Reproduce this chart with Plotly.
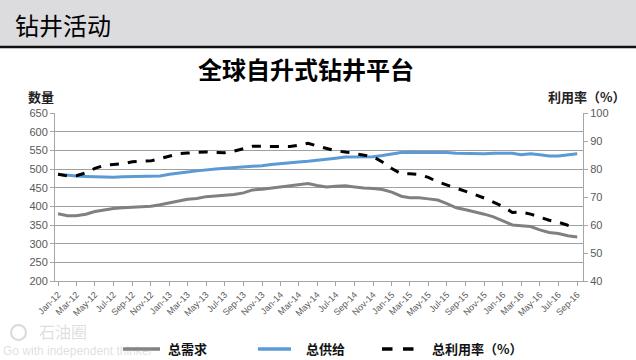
import plotly.graph_objects as go
import pandas as pd

months = pd.date_range("2012-01-01", "2016-09-01", freq="MS")

demand = [380, 375, 375, 379, 386, 391, 394, 396, 397, 398, 400, 404, 409, 414, 419, 421,
          426, 428, 429, 432, 436, 444, 446, 449, 451, 454, 456, 461, 456, 452, 454, 455,
          452, 449, 448, 445, 438, 427, 423, 423, 420, 417, 407, 396, 391, 386, 379, 372,
          362, 350, 348, 346, 337, 330, 327, 321, 318]

supply = [486, 483, 481, 480, 479, 478, 478, 479, 479, 479, 480, 481, 486, 490, 492, 495,
          498, 500, 502, 504, 505, 506, 509, 512, 515, 517, 519, 521, 523, 525, 529, 532,
          532, 532, 533, 536, 540, 544, 545, 545, 546, 546, 544, 542, 541, 541, 541, 542,
          543, 542, 538, 541, 538, 535, 535, 538, 541]

utilization = [78.1, 77.5, 77.6, 78.6, 80.2, 81.3, 81.6, 81.9, 82.6, 82.8, 82.9, 83.7, 84.6,
               85.5, 85.7, 85.9, 86.1, 85.9, 85.8, 86.4, 87.3, 88.1, 88.1, 88.1, 88.1, 88.0,
               88.5, 89.2, 88.2, 87.2, 86.5, 86.1, 85.6, 85.0, 84.4, 82.5, 80.2, 78.3, 78.3,
               78.0, 77.0, 75.4, 74.3, 73.3, 72.0, 70.9, 69.6, 68.2, 66.6, 64.5, 64.6, 63.9,
               62.8, 61.7, 61.0, 59.9, 59.1]

series_names = ["总需求", "总供给", "总利用率（%）"]
left_ticks = list(range(200, 651, 50))
right_ticks = list(range(40, 101, 10))

CJK = "Noto Sans CJK SC"
NUM = "Liberation Sans"

fig = go.Figure()
fig.add_trace(go.Scatter(x=months, y=demand, name=series_names[0], mode="lines",
                         line=dict(color="#808080", width=3)))
fig.add_trace(go.Scatter(x=months, y=supply, name=series_names[1], mode="lines",
                         line=dict(color="#5b9bd5", width=3)))
fig.add_trace(go.Scatter(x=months, y=utilization, name=series_names[2], mode="lines",
                         yaxis="y2", line=dict(color="#000000", width=3, dash="dash")))

# plot area: x 55..583, y 113..281
def px_x(X):
    return (X - 55) / 528.0

def px_y(Y):
    return (281 - Y) / 168.0

shapes = [
    dict(type="rect", xref="paper", yref="paper", x0=px_x(0), x1=px_x(636),
         y0=px_y(46), y1=px_y(0), fillcolor="#dcdcdf", line=dict(width=0), layer="below"),
    dict(type="line", xref="paper", yref="paper", x0=px_x(0), x1=px_x(636),
         y0=px_y(47), y1=px_y(47), line=dict(color="#111111", width=2.5)),
    # watermark icon
    dict(type="circle", xref="paper", yref="paper", x0=px_x(11), x1=px_x(26),
         y0=px_y(340), y1=px_y(325), line=dict(color="rgba(170,170,170,0.45)", width=2)),
]

# manual legend
legend_items = [
    (series_names[0], "#808080", "solid", 123, 160, 166),
    (series_names[1], "#5b9bd5", "solid", 258, 291, 304),
    (series_names[2], "#000000", "dash", 382, 416, 430),
]
annotations = []
for name, color, dash, lx0, lx1, tx in legend_items:
    shapes.append(dict(type="line", xref="paper", yref="paper", x0=px_x(lx0), x1=px_x(lx1),
                       y0=px_y(349), y1=px_y(349),
                       line=dict(color=color, width=3.5, dash=dash)))
    annotations.append(dict(text="<b>" + name + "</b>", xref="paper", yref="paper",
                            x=px_x(tx), y=px_y(348), xanchor="left", yanchor="middle",
                            showarrow=False, font=dict(family=CJK, size=13, color="#111111")))

annotations += [
    dict(text="钻井活动", xref="paper", yref="paper", x=px_x(13), y=px_y(24),
         xanchor="left", yanchor="middle", showarrow=False,
         font=dict(family=CJK, size=24, color="#000000")),
    dict(text="<b>全球自升式钻井平台</b>", xref="paper", yref="paper", x=px_x(306), y=px_y(68),
         xanchor="center", yanchor="middle", showarrow=False,
         font=dict(family=CJK, size=24, color="#000000")),
    dict(text="<b>数量</b>", xref="paper", yref="paper", x=px_x(26), y=px_y(97),
         xanchor="left", yanchor="middle", showarrow=False,
         font=dict(family=CJK, size=13, color="#222222")),
    dict(text="<b>利用率（%）</b>", xref="paper", yref="paper", x=px_x(628), y=px_y(97),
         xanchor="right", yanchor="middle", showarrow=False,
         font=dict(family=CJK, size=13, color="#222222")),
    dict(text="石油圈", xref="paper", yref="paper",
         x=px_x(37), y=px_y(331), xanchor="left", yanchor="middle", showarrow=False,
         font=dict(family=CJK, size=16, color="rgba(160,160,160,0.35)")),
    dict(text="Go with independent thinker", xref="paper", yref="paper",
         x=px_x(1), y=px_y(351), xanchor="left", yanchor="middle", showarrow=False,
         font=dict(family=NUM, size=12, color="rgba(160,160,160,0.35)")),
]

fig.update_layout(
    width=636, height=360,
    margin=dict(l=55, r=53, t=113, b=79, autoexpand=False),
    paper_bgcolor="white", plot_bgcolor="white",
    showlegend=False,
    shapes=shapes,
    annotations=annotations,
    xaxis=dict(type="date", range=["2011-12-22", "2016-09-20"], automargin=False,
               tickmode="array", tickvals=months[::2], tickformat="%b-%y",
               tickangle=-45, tickfont=dict(family=NUM, size=9, color="#595959"),
               showgrid=False, showline=True, linecolor="#a6a6a6", linewidth=1,
               ticks="outside", ticklen=4, tickcolor="#a6a6a6", zeroline=False),
    yaxis=dict(range=[200, 650], tickvals=left_ticks, showgrid=True, gridcolor="#a0a0a0",
               gridwidth=1, showline=True, linecolor="#a6a6a6", ticks="outside", ticklen=4,
               tickcolor="#a6a6a6", tickfont=dict(family=NUM, size=11, color="#595959"),
               zeroline=False, automargin=False),
    yaxis2=dict(range=[40, 100], tickvals=right_ticks, overlaying="y", side="right",
                showgrid=False, showline=True, linecolor="#a6a6a6", ticks="outside",
                ticklen=4, tickcolor="#a6a6a6", automargin=False,
                tickfont=dict(family=NUM, size=11, color="#595959"), zeroline=False),
)

fig.write_html("out.html")
